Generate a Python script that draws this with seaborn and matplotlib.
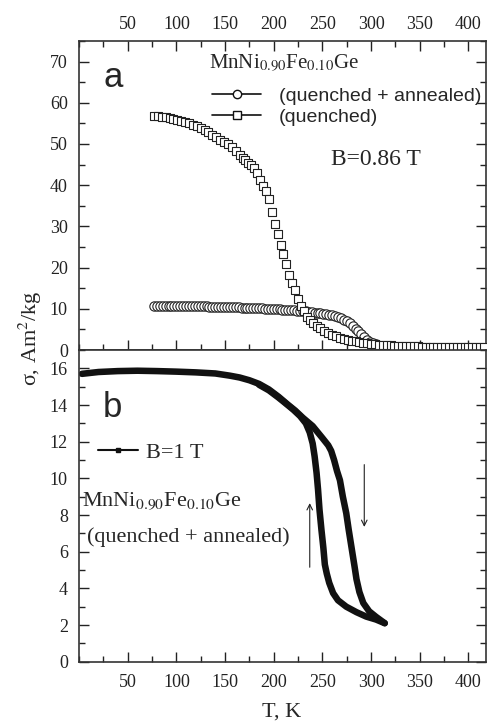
import numpy as np
import pandas as pd
import matplotlib
matplotlib.use('Agg')
import matplotlib.pyplot as plt
from matplotlib.lines import Line2D
from matplotlib.ticker import MultipleLocator
import seaborn as sns

## ===================================================================== ##
## panel a : B = 0.86 T

T_quenched = [77, 81, 85, 89, 93, 97, 101, 105, 109, 113, 117, 121, 125, 129, 133,
              137, 141, 145, 149, 153, 157, 161, 165, 168, 171, 174, 177, 180, 183,
              186, 189, 192, 195, 198, 201, 204, 207, 210, 213, 216, 219, 222, 225,
              228, 231, 234, 237, 240, 244, 248, 252, 256, 260, 264, 268, 272, 276,
              280, 284, 288, 292, 296, 300, 304, 308, 312, 316, 320, 324, 328, 332,
              336, 340, 344, 348, 352, 356, 360, 364, 368, 372, 376, 380, 384, 388,
              392, 396, 400, 404, 408, 412, 416]
sigma_quenched = [56.8, 56.7, 56.6, 56.5, 56.3, 56.1, 55.9, 55.7, 55.4, 55.1, 54.7,
                  54.3, 53.8, 53.3, 52.8, 52.2, 51.6, 51.0, 50.5, 49.9, 49.2, 48.3,
                  47.4, 46.6, 46.0, 45.5, 44.8, 44.2, 43.0, 41.3, 39.8, 38.6, 36.6,
                  33.5, 30.5, 28.2, 25.6, 23.2, 20.8, 18.2, 16.2, 14.5, 12.4, 10.8,
                  9.4, 8.1, 7.3, 6.6, 5.9, 5.3, 4.7, 4.2, 3.7, 3.3, 3.0, 2.7, 2.5,
                  2.3, 2.1, 1.9, 1.8, 1.6, 1.5, 1.4, 1.3, 1.2, 1.15, 1.1, 1.05, 1.0,
                  1.0, 0.95, 0.9, 0.9, 0.9, 0.85, 0.85, 0.85, 0.8, 0.8, 0.8, 0.8,
                  0.8, 0.8, 0.8, 0.8, 0.8, 0.8, 0.8, 0.8, 0.8, 0.8]

T_annealed = [77, 80, 83, 86, 89, 92, 95, 98, 101, 104, 107, 110, 113, 116, 119, 122,
              125, 128, 131, 134, 137, 140, 143, 146, 149, 152, 155, 158, 161, 164,
              167, 170, 173, 176, 179, 182, 185, 188, 191, 194, 197, 200, 203, 206,
              209, 212, 215, 218, 221, 224, 227, 230, 233, 236, 239, 242, 245, 248,
              251, 254, 257, 260, 263, 266, 269, 272, 275, 278, 281, 284, 287, 290,
              293, 296, 299, 302, 305]
sigma_annealed = [10.8, 10.8, 10.8, 10.8, 10.8, 10.8, 10.8, 10.8, 10.8, 10.75, 10.75,
                  10.7, 10.7, 10.7, 10.65, 10.65, 10.6, 10.6, 10.6, 10.55, 10.55, 10.5,
                  10.5, 10.5, 10.45, 10.45, 10.4, 10.4, 10.35, 10.35, 10.3, 10.3, 10.25,
                  10.2, 10.2, 10.15, 10.1, 10.1, 10.05, 10.0, 10.0, 9.95, 9.9, 9.85,
                  9.8, 9.75, 9.7, 9.65, 9.6, 9.55, 9.5, 9.4, 9.35, 9.25, 9.2, 9.1, 9.0,
                  8.9, 8.8, 8.7, 8.55, 8.4, 8.2, 8.0, 7.7, 7.4, 7.0, 6.5, 5.9, 5.2,
                  4.5, 3.8, 3.1, 2.5, 2.0, 1.7, 1.5]

## panel b : B = 1 T, heating and cooling branches

T_heating = [3, 20, 40, 60, 80, 100, 120, 140, 155, 165, 175, 185, 195, 205, 215,
             222, 230, 240, 250, 256, 259, 262, 265, 268, 271, 274.5, 277, 280, 283,
             285, 288, 292, 298, 305, 314]
sigma_heating = [15.7, 15.8, 15.85, 15.87, 15.85, 15.82, 15.78, 15.72, 15.6, 15.5,
                 15.35, 15.15, 14.85, 14.45, 14.0, 13.7, 13.3, 12.85, 12.2, 11.8, 11.5,
                 11.0, 10.4, 9.9, 9.0, 8.1, 7.2, 6.2, 5.2, 4.5, 3.8, 3.2, 2.75, 2.45,
                 2.1]

T_cooling = [314, 305, 295, 285, 274.5, 266, 261, 257, 254.5, 252.5, 251, 249, 247,
             245.5, 244, 242, 240, 237, 233, 227, 220, 212, 205, 195, 185]
sigma_cooling = [2.1, 2.3, 2.46, 2.7, 3.0, 3.35, 3.74, 4.3, 4.8, 5.3, 6.2, 7.2, 8.3,
                 9.4, 10.3, 11.2, 11.9, 12.5, 13.0, 13.4, 13.75, 14.1, 14.4, 14.8, 15.1]

x_ticks = [50, 100, 150, 200, 250, 300, 350, 400]

## ===================================================================== ##

sns.set_style('ticks')
plt.rcParams['font.family'] = ['Liberation Serif', 'DejaVu Serif']
plt.rcParams['mathtext.fontset'] = 'stix'
plt.rcParams['axes.edgecolor'] = '#333333'
plt.rcParams['axes.linewidth'] = 1.2
SANS = ['Liberation Sans', 'DejaVu Sans']

df_q = pd.DataFrame({'T': T_quenched, 'sigma': sigma_quenched})
df_a = pd.DataFrame({'T': T_annealed, 'sigma': sigma_annealed})
df_h = pd.DataFrame({'T': T_heating, 'sigma': sigma_heating})
df_c = pd.DataFrame({'T': T_cooling, 'sigma': sigma_cooling})

fig = plt.figure(figsize=(4.87, 7.23), dpi=100)
ax1 = fig.add_axes([0.1622, 0.5159, 0.8357, 0.4274])
ax2 = fig.add_axes([0.1622, 0.0848, 0.8357, 0.4311])

# --- top panel
sns.scatterplot(data=df_a, x='T', y='sigma', ax=ax1, marker='o', s=45,
                facecolor='white', edgecolor='#222222', linewidth=0.8, zorder=3)
sns.scatterplot(data=df_q, x='T', y='sigma', ax=ax1, marker='s', s=38,
                facecolor='white', edgecolor='#222222', linewidth=0.8, zorder=4)

ax1.set_xlim(0, 418)
ax1.set_ylim(0, 75)
ax1.set_xlabel('')
ax1.set_ylabel('')
ax1.set_xticks(x_ticks)
ax1.xaxis.set_minor_locator(MultipleLocator(25))
ax1.set_yticks(np.arange(0, 80, 10))
ax1.yaxis.set_minor_locator(MultipleLocator(5))
ax1.tick_params(which='both', direction='in', top=True, right=True,
                bottom=True, labelbottom=False, labeltop=True, labelsize=13, colors='#222222')
ax1.tick_params(which='major', length=7, width=1.0)
ax1.tick_params(which='minor', length=4, width=1.0)
ax1.tick_params(axis='y', pad=8)
ax1.tick_params(axis='x', pad=6)

ax1.text(0.059, 0.851, 'a', transform=ax1.transAxes, fontsize=25, family=SANS,
         ha='left', va='baseline')
ax1.text(0.319, 0.913, r'MnNi$_{0.90}$Fe$_{0.10}$Ge', transform=ax1.transAxes,
         fontsize=15, ha='left', va='baseline')
ax1.text(0.618, 0.615, 'B=0.86 T', transform=ax1.transAxes, fontsize=17,
         ha='left', va='center')

h_a = Line2D([], [], color='#111111', lw=1.2, marker='o', markersize=6,
             markerfacecolor='white', markeredgecolor='#111111')
h_q = Line2D([], [], color='#111111', lw=1.2, marker='s', markersize=5.5,
             markerfacecolor='white', markeredgecolor='#111111')
ax1.legend([h_a, h_q], ['(quenched + annealed)', '(quenched)'],
           loc='center left', bbox_to_anchor=(0.328, 0.788), frameon=False,
           borderpad=0, borderaxespad=0, labelspacing=0.2, handlelength=2.5,
           handletextpad=0.9, numpoints=1, prop={'family': SANS, 'size': 14})

# --- bottom panel
sns.lineplot(data=df_h, x='T', y='sigma', ax=ax2, sort=False, estimator=None,
             color='#111111', lw=4.7, solid_capstyle='round', solid_joinstyle='round')
sns.lineplot(data=df_c, x='T', y='sigma', ax=ax2, sort=False, estimator=None,
             color='#111111', lw=4.7, solid_capstyle='round', solid_joinstyle='round')

ax2.set_xlim(0, 418)
ax2.set_ylim(0, 17)
ax2.set_xlabel('')
ax2.set_ylabel('')
ax2.set_xticks(x_ticks)
ax2.xaxis.set_minor_locator(MultipleLocator(25))
ax2.set_yticks(np.arange(0, 18, 2))
ax2.yaxis.set_minor_locator(MultipleLocator(1))
ax2.tick_params(which='both', direction='in', top=False, right=True,
                labelsize=13, colors='#222222')
ax2.tick_params(which='major', length=7, width=1.0)
ax2.tick_params(which='minor', length=4, width=1.0)
ax2.tick_params(axis='y', pad=8)
ax2.tick_params(axis='x', pad=9)

ax2.text(0.059, 0.785, 'b', transform=ax2.transAxes, fontsize=25, family=SANS,
         ha='left', va='baseline')
ax2.text(0.007, 0.498, r'MnNi$_{0.90}$Fe$_{0.10}$Ge', transform=ax2.transAxes,
         fontsize=16, ha='left', va='baseline')
ax2.text(0.019, 0.40, '(quenched + annealed)', transform=ax2.transAxes,
         fontsize=16, ha='left', va='center')

h_b = Line2D([], [], color='#111111', lw=1.5, marker='s', markersize=3.5)
ax2.legend([h_b], ['B=1 T'], loc='center left', bbox_to_anchor=(0.047, 0.67),
           frameon=False, borderpad=0, borderaxespad=0, handlelength=1.8,
           handletextpad=0.35, numpoints=1, prop={'size': 16})

ax2.annotate('', xy=(237, 8.8), xytext=(237, 5.0),
             arrowprops=dict(arrowstyle='->', lw=0.8, color='#222222'))
ax2.annotate('', xy=(293, 7.2), xytext=(293, 10.9),
             arrowprops=dict(arrowstyle='->', lw=0.8, color='#222222'))

fig.text(30 / 487, 1 - 338 / 723, 'σ, Am$^2$/kg', rotation=90, fontsize=16,
         ha='center', va='center')
fig.text(282 / 487, 1 - 712 / 723, 'T, K', fontsize=16, ha='center', va='center')

fig.savefig('out.png', dpi=100)
